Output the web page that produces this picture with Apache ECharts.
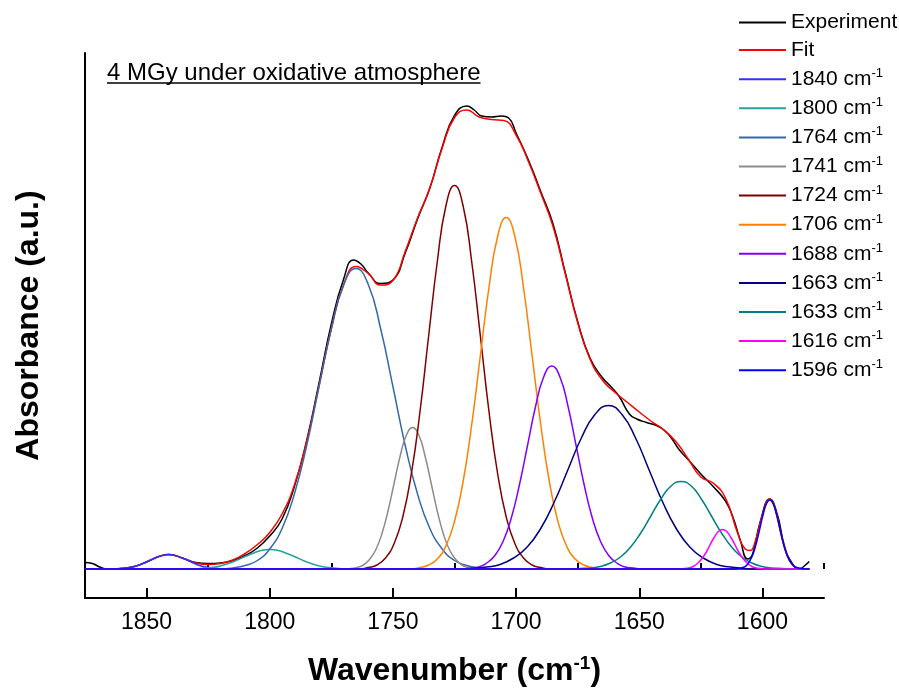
<!DOCTYPE html>
<html>
<head>
<meta charset="utf-8">
<script src="https://cdn.jsdelivr.net/npm/echarts@6/dist/echarts.min.js"></script>
<style>
  html, body { margin: 0; padding: 0; background: #fff; }
  #chart { width: 899px; height: 689px; }
</style>
</head>
<body>
<div id="chart"></div>
<script>
/*
 * Deconvolution FTIR carbonyl (4 MGy, atmosphere oxydante) : experience, fit et 11 composantes.
 * Axe des nombres d'onde inverse, 1875 -> 1575 cm-1.
 */
var FONT = '"Liberation Sans", Arial, Helvetica, sans-serif';

// graduations de l'axe x
var majorTicks = [1850, 1800, 1750, 1700, 1650, 1600];
var minorTicks = [1825, 1775, 1725, 1675, 1625, 1575];

// [nombre d'onde, absorbance]
var experiment = [
  [1875, 0.013], [1872, 0.011], [1869, 0.004], [1866, 0.000], [1860, 0.001], [1855, 0.005],
  [1850, 0.014], [1845, 0.025], [1841, 0.029], [1835, 0.021], [1830, 0.013], [1825, 0.011],
  [1820, 0.012], [1815, 0.017], [1810, 0.027], [1805, 0.042], [1800, 0.066], [1795, 0.100],
  [1790, 0.165], [1785, 0.257], [1780, 0.372], [1775, 0.490], [1770, 0.580], [1766, 0.618],
  [1763, 0.610], [1760, 0.592], [1755, 0.571], [1750, 0.578], [1745, 0.632], [1740, 0.700],
  [1735, 0.762], [1730, 0.844], [1725, 0.907], [1720, 0.926], [1717, 0.918], [1714, 0.906],
  [1710, 0.904], [1706, 0.906], [1703, 0.902], [1700, 0.872], [1695, 0.818], [1690, 0.755],
  [1685, 0.690], [1680, 0.592], [1675, 0.495], [1670, 0.422], [1665, 0.383], [1661, 0.362],
  [1658, 0.344], [1654, 0.310], [1651, 0.300], [1647, 0.293], [1643, 0.287], [1640, 0.278],
  [1637, 0.262], [1634, 0.240], [1630, 0.218], [1625, 0.190], [1620, 0.165], [1615, 0.136],
  [1612, 0.104], [1609, 0.058], [1606, 0.020], [1604, 0.030], [1601, 0.092], [1597, 0.140],
  [1594, 0.110], [1591, 0.045], [1588, 0.012], [1585, 0.000], [1583, 0.006], [1581, 0.015]
];

var fit = [
  [1870, 0.000], [1865, 0.000], [1860, 0.001], [1855, 0.005], [1850, 0.014], [1845, 0.025],
  [1841, 0.029], [1835, 0.021], [1830, 0.012], [1825, 0.009], [1820, 0.011], [1815, 0.018],
  [1810, 0.031], [1805, 0.049], [1800, 0.073], [1795, 0.110], [1790, 0.168], [1785, 0.255],
  [1780, 0.366], [1775, 0.480], [1770, 0.568], [1765, 0.605], [1760, 0.591], [1755, 0.568],
  [1750, 0.577], [1745, 0.635], [1740, 0.702], [1735, 0.762], [1730, 0.842], [1725, 0.903],
  [1720, 0.918], [1715, 0.904], [1710, 0.899], [1705, 0.897], [1700, 0.868], [1695, 0.815],
  [1690, 0.752], [1685, 0.685], [1680, 0.590], [1675, 0.493], [1670, 0.420], [1665, 0.378],
  [1660, 0.354], [1655, 0.334], [1650, 0.314], [1645, 0.295], [1640, 0.278], [1635, 0.254],
  [1630, 0.219], [1625, 0.184], [1620, 0.172], [1615, 0.142], [1610, 0.071], [1607, 0.040],
  [1605, 0.037], [1603, 0.054], [1600, 0.108], [1597, 0.140], [1595, 0.123], [1592, 0.061],
  [1590, 0.028], [1588, 0.010], [1585, 0.001], [1581, 0.000]
];

var peak1840 = [
  [1875, 0], [1863.5, 0], [1861, 0.001], [1858.5, 0.002], [1856, 0.004], [1853.5, 0.007],
  [1851, 0.012], [1848.5, 0.018], [1846, 0.023], [1843.5, 0.027], [1841, 0.029], [1838.5, 0.027],
  [1836, 0.023], [1833.5, 0.018], [1831, 0.012], [1828.5, 0.007], [1826, 0.004], [1823.5, 0.002],
  [1821, 0.001], [1818.5, 0], [1581, 0]
];
var peak1800 = [
  [1875, 0], [1831.5, 0], [1828, 0.001], [1824.5, 0.003], [1821, 0.005], [1817.5, 0.010],
  [1814, 0.016], [1810.5, 0.024], [1807, 0.031], [1803.5, 0.037], [1800, 0.039], [1796.5, 0.037],
  [1793, 0.031], [1789.5, 0.024], [1786, 0.016], [1782.5, 0.010], [1779, 0.005], [1775.5, 0.003],
  [1772, 0.001], [1768.5, 0], [1581, 0]
];
var peak1764 = [
  [1875, 0], [1820, 0], [1815, 0.002], [1810, 0.007], [1805, 0.017], [1800, 0.040], [1795, 0.081],
  [1790, 0.150], [1785, 0.247], [1780, 0.365], [1775, 0.481], [1770, 0.569], [1765, 0.601],
  [1760, 0.569], [1755, 0.481], [1750, 0.365], [1745, 0.247], [1740, 0.150], [1735, 0.081],
  [1730, 0.040], [1725, 0.017], [1720, 0.007], [1715, 0.002], [1710, 0], [1581, 0]
];
var peak1741 = [
  [1875, 0], [1769.5, 0], [1767, 0.001], [1764.5, 0.003], [1762, 0.008], [1759.5, 0.019],
  [1757, 0.038], [1754.5, 0.070], [1752, 0.116], [1749.5, 0.172], [1747, 0.227], [1744.5, 0.268],
  [1742, 0.283], [1739.5, 0.268], [1737, 0.227], [1734.5, 0.172], [1732, 0.116], [1729.5, 0.070],
  [1727, 0.038], [1724.5, 0.019], [1722, 0.008], [1719.5, 0.003], [1717, 0.001], [1714.5, 0], [1581, 0]
];
var peak1724 = [
  [1875, 0], [1763.5, 0], [1760, 0.003], [1756.5, 0.008], [1753, 0.022], [1749.5, 0.051],
  [1746, 0.104], [1742.5, 0.191], [1739, 0.315], [1735.5, 0.466], [1732, 0.614], [1728.5, 0.726],
  [1725, 0.767], [1721.5, 0.726], [1718, 0.614], [1714.5, 0.466], [1711, 0.315], [1707.5, 0.191],
  [1704, 0.104], [1700.5, 0.051], [1697, 0.022], [1693.5, 0.008], [1690, 0.003], [1686.5, 0], [1581, 0]
];
var peak1706 = [
  [1875, 0], [1742.5, 0], [1739, 0.003], [1735.5, 0.008], [1732, 0.020], [1728.5, 0.046],
  [1725, 0.095], [1721.5, 0.175], [1718, 0.289], [1714.5, 0.427], [1711, 0.563], [1707.5, 0.665],
  [1704, 0.703], [1700.5, 0.665], [1697, 0.563], [1693.5, 0.427], [1690, 0.289], [1686.5, 0.175],
  [1683, 0.095], [1679.5, 0.046], [1676, 0.020], [1672.5, 0.008], [1669, 0.003], [1665.5, 0], [1581, 0]
];
var peak1688 = [
  [1875, 0], [1721.8, 0], [1718.5, 0.002], [1715.2, 0.004], [1711.9, 0.012], [1708.6, 0.027],
  [1705.3, 0.055], [1702, 0.101], [1698.7, 0.167], [1695.4, 0.246], [1692.1, 0.325], [1688.8, 0.384],
  [1685.5, 0.406], [1682.2, 0.384], [1678.9, 0.325], [1675.6, 0.246], [1672.3, 0.167], [1669, 0.101],
  [1665.7, 0.055], [1662.4, 0.027], [1659.1, 0.012], [1655.8, 0.004], [1652.5, 0.002], [1649.2, 0], [1581, 0]
];
var peak1663 = [
  [1875, 0], [1723, 0], [1717.5, 0.001], [1712, 0.004], [1706.5, 0.009], [1701, 0.022],
  [1695.5, 0.044], [1690, 0.081], [1684.5, 0.134], [1679, 0.198], [1673.5, 0.262], [1668, 0.309],
  [1662.5, 0.327], [1657, 0.309], [1651.5, 0.262], [1646, 0.198], [1640.5, 0.134], [1635, 0.081],
  [1629.5, 0.044], [1624, 0.022], [1618.5, 0.009], [1613, 0.004], [1607.5, 0.001], [1602, 0], [1581, 0]
];
var peak1633 = [
  [1875, 0], [1678.1, 0], [1674, 0.001], [1669.9, 0.002], [1665.8, 0.005], [1661.7, 0.012],
  [1657.6, 0.024], [1653.5, 0.044], [1649.4, 0.072], [1645.3, 0.106], [1641.2, 0.140], [1637.1, 0.166],
  [1633, 0.175], [1628.9, 0.166], [1624.8, 0.140], [1620.7, 0.106], [1616.6, 0.072], [1612.5, 0.044],
  [1608.4, 0.024], [1604.3, 0.012], [1600.2, 0.005], [1596.1, 0.002], [1592, 0.001], [1587.9, 0], [1581, 0]
];
var peak1616 = [
  [1875, 0], [1633.2, 0], [1631.5, 0.001], [1629.8, 0.002], [1628.1, 0.005], [1626.4, 0.011],
  [1624.7, 0.020], [1623, 0.032], [1621.3, 0.048], [1619.6, 0.063], [1617.9, 0.075], [1616.2, 0.079],
  [1614.5, 0.075], [1612.8, 0.063], [1611.1, 0.048], [1609.4, 0.032], [1607.7, 0.020], [1606, 0.011],
  [1604.3, 0.005], [1602.6, 0.002], [1600.9, 0.001], [1599.2, 0], [1581, 0]
];
var peak1596 = [
  [1875, 0], [1611.3, 0], [1610, 0.001], [1608.7, 0.002], [1607.4, 0.004], [1606.1, 0.009],
  [1604.8, 0.019], [1603.5, 0.034], [1602.2, 0.057], [1600.9, 0.084], [1599.6, 0.111], [1598.3, 0.131],
  [1597, 0.138], [1595.7, 0.131], [1594.4, 0.111], [1593.1, 0.084], [1591.8, 0.057], [1590.5, 0.034],
  [1589.2, 0.019], [1587.9, 0.009], [1586.6, 0.004], [1585.3, 0.002], [1584, 0.001], [1582.7, 0], [1581, 0]
];

var peakNames = ['1840 cm-1', '1800 cm-1', '1764 cm-1', '1741 cm-1', '1724 cm-1', '1706 cm-1',
                 '1688 cm-1', '1663 cm-1', '1633 cm-1', '1616 cm-1', '1596 cm-1'];
var peakData = [peak1840, peak1800, peak1764, peak1741, peak1724, peak1706,
                peak1688, peak1663, peak1633, peak1616, peak1596];

var peakColors = ['#3030FF', '#2AA0A0', '#3568A8', '#8C8C8C', '#800000', '#FF8000',
                  '#8000FF', '#000080', '#008080', '#FF00FF', '#0000FF'];

function lineSeries(name, data, color) {
  return {
    name: name,
    type: 'line',
    data: data,
    symbol: 'none',
    showSymbol: false,
    smooth: 0.5,
    lineStyle: { width: 1.5, color: color },
    itemStyle: { color: color },
    xAxisIndex: 0,
    yAxisIndex: 0,
    silent: true
  };
}

var series = [
  lineSeries('Experiment', experiment, '#000000'),
  lineSeries('Fit', fit, '#FF0000')
];
peakData.forEach(function (d, i) {
  series.push(lineSeries(peakNames[i], d, peakColors[i]));
});

// largeur du titre pour le souligner
var ctx = document.createElement('canvas').getContext('2d');
var titleText = '4 MGy under oxidative atmosphere';
ctx.font = '24px ' + FONT;
var titleWidth = ctx.measureText(titleText).width;

var chart = echarts.init(document.getElementById('chart'), null, { renderer: 'canvas' });
chart.setOption({
  animation: false,
  backgroundColor: '#ffffff',
  grid: { left: 85, right: 75, top: 53, bottom: 91, outerBoundsMode: 'none', containLabel: false },
  legend: {
    orient: 'vertical',
    left: 734,
    top: 7,
    icon: 'rect',
    itemWidth: 47,
    itemHeight: 2,
    itemGap: 6.6,
    selectedMode: false,
    data: ['Experiment', 'Fit'].concat(peakNames),
    formatter: function (name) {
      if (name.indexOf(' cm-1') > 0) {
        return '{n|' + name.replace(' cm-1', ' cm') + '}{s|-1}';
      }
      return '{n|' + name + '}';
    },
    textStyle: {
      color: '#000',
      fontFamily: FONT,
      fontSize: 21,
      padding: [0, 0, 0, 0],
      rich: {
        n: { fontSize: 21, fontFamily: FONT, color: '#000' },
        s: { fontSize: 13, fontFamily: FONT, color: '#000', padding: [0, 0, 11, 0] }
      }
    }
  },
  xAxis: [{
    type: 'value',
    min: 1575,
    max: 1875,
    interval: 25,
    inverse: true,
    position: 'bottom',
    name: '{b|Wavenumber (cm}{s|-1}{b|)}',
    nameLocation: 'middle',
    nameGap: 56,
    nameTextStyle: {
      rich: {
        b: { fontSize: 32, fontWeight: 'bold', fontFamily: FONT, color: '#000' },
        s: { fontSize: 19, fontWeight: 'bold', fontFamily: FONT, color: '#000', padding: [0, 0, 16, 0] }
      }
    },
    axisLine: { show: true, onZero: false, lineStyle: { color: '#000', width: 2 } },
    axisTick: { show: true, inside: true, length: 10, customValues: majorTicks, lineStyle: { color: '#000', width: 2 } },
    axisLabel: {
      show: true,
      customValues: majorTicks,
      color: '#000',
      fontSize: 23,
      fontFamily: FONT,
      margin: 13,
      formatter: function (v) { return String(v); }
    },
    splitLine: { show: false }
  }, {
    type: 'value',
    min: 1575,
    max: 1875,
    interval: 25,
    inverse: true,
    position: 'bottom',
    axisLine: { show: false },
    axisTick: { show: true, inside: true, length: 6, customValues: minorTicks, lineStyle: { color: '#000', width: 2 } },
    axisLabel: { show: false },
    splitLine: { show: false }
  }],
  yAxis: {
    type: 'value',
    min: -0.058,
    max: 1.032,
    name: 'Absorbance (a.u.)',
    nameLocation: 'middle',
    nameGap: 40,
    nameTextStyle: { fontSize: 32, fontWeight: 'bold', fontFamily: FONT, color: '#000' },
    axisLine: { show: true, onZero: false, lineStyle: { color: '#000', width: 2 } },
    axisTick: { show: false },
    axisLabel: { show: false },
    splitLine: { show: false }
  },
  graphic: [{
    type: 'text',
    left: 107,
    top: 61,
    style: { text: titleText, font: '24px ' + FONT, fill: '#000' }
  }, {
    type: 'line',
    shape: { x1: 107, y1: 83, x2: 107 + titleWidth, y2: 83 },
    style: { stroke: '#000', lineWidth: 1.5 }
  }],
  series: series
});
</script>
</body>
</html>
